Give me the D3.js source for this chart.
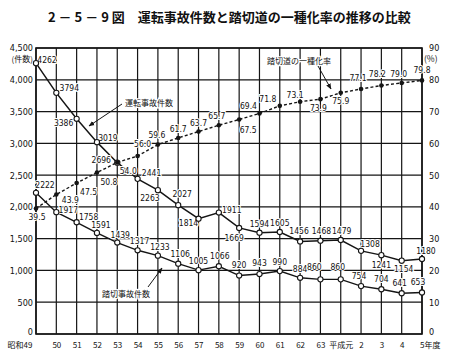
<!DOCTYPE html>
<html><head><meta charset="utf-8">
<script src="https://cdn.jsdelivr.net/npm/d3@7"></script>
<style>
body{margin:0;background:#fff;}
svg{display:block;background:#fff;}
.num{font-family:"Liberation Sans Narrow","DejaVu Sans Condensed","Arial Narrow",sans-serif;font-size:8.5px;fill:#111;}
.jp{font-family:"Noto Sans CJK JP","Noto Sans CJK SC",sans-serif;fill:#111;}
</style></head><body>
<svg id="c" width="458" height="360"></svg>
<script>
// ---- data ----
const years = ["昭和49","50","51","52","53","54","55","56","57","58","59","60","61","62","63","平成元","2","3","4","5年度"];
const untenJiko = [4262,3794,3386,3019,2696,2441,2263,2027,1814,1911,1669,1594,1605,1456,1468,1479,1308,1241,1154,1180];
const fumikiriJiko = [2222,1917,1758,1591,1439,1317,1233,1106,1005,1066,920,943,990,884,860,860,754,704,641,653];
const isshuRate = [39.5,43.9,47.5,50.8,54.0,56.0,59.6,61.7,63.7,65.7,67.5,69.4,71.8,73.1,73.9,75.9,77.1,78.2,79.0,79.8];
const leftTicks = [0,500,1000,1500,2000,2500,3000,3500,4000,4500];
const rightTicks = [0,10,20,30,40,50,60,70,80,90];
const rateLabels = ["39.5","43.9","47.5","50.8","54.0","56.0","59.6","61.7","63.7","65.7","67.5","69.4","71.8","73.1","73.9","75.9","77.1","78.2","79.0","79.8"];

// label nudges (relative to each point)
const untenOff = [[11,-3],[13,-5],[-13,4],[11,-4],[-16,-3],[14,-6],[-8,8],[4,-11],[-10,4],[13,-3],[-5,10],[0,-9],[0,-9],[-1,-10],[1,-10],[1,-9],[9,-7],[0,10],[2,8],[4,-8]];
const fumiOff = [[9,-8],[12,-2],[12,-5],[4,-8],[3,-8],[2,-9],[2,-9],[2,-10],[0,-9],[1,-10],[0,-11],[0,-11],[0,-9],[0,-9],[-6,-12],[-3,-12],[-2,-10],[0,-10],[-2,-10],[-4,-10]];
const rateOff = [[1,9],[14,6],[12,9],[12,9],[11,9],[5,-12],[-1,-10],[0,-9],[0,-9],[-2,-9],[9,10],[-11,-7],[-12,-7],[-5,-7],[-2,9],[0,8],[-3,-11],[-4,-11],[-3,-9],[0,-10]];

// ---- layout ----
const L = 36, R = 422, T = 48, B = 334;
const svg = d3.select("#c");
const x = d3.scalePoint().domain(years).range([L, R]);
const yL = d3.scaleLinear().domain([0, 4500]).range([B, T]);
const yR = d3.scaleLinear().domain([0, 90]).range([B, T]);
const ink = "#151515";

// title
svg.append("text").attr("class","jp").attr("x",48).attr("y",22)
  .attr("font-size",13).attr("font-weight","bold")
  .text("2 － 5 － 9 図　運転事故件数と踏切道の一種化率の推移の比較");

// grid
const grid = svg.append("g").attr("stroke", ink).attr("stroke-width", 1.2);
grid.selectAll("line.v").data(years).join("line").attr("class","v")
  .attr("x1", d => x(d)).attr("x2", d => x(d)).attr("y1", T).attr("y2", B);
grid.selectAll("line.h").data(leftTicks).join("line").attr("class","h")
  .attr("x1", L).attr("x2", R).attr("y1", d => yL(d)).attr("y2", d => yL(d));
svg.append("rect").attr("x", L).attr("y", T).attr("width", R - L).attr("height", B - T)
  .attr("fill","none").attr("stroke", ink).attr("stroke-width", 1.6);

// axes
const axL = svg.append("g").attr("transform", `translate(${L-2},0)`)
  .call(d3.axisLeft(yL).tickValues(leftTicks).tickFormat(d3.format(",")).tickSize(0).tickPadding(1));
axL.select(".domain").remove();
axL.selectAll("text").attr("class","num").attr("font-size",null).attr("font-family",null).style("font-size","9px");
axL.selectAll(".tick").filter(d => d === 0).select("text").attr("dy","0.1em");
const axR = svg.append("g").attr("transform", `translate(${R+6},0)`)
  .call(d3.axisRight(yR).tickValues(rightTicks).tickSize(0).tickPadding(1));
axR.select(".domain").remove();
axR.selectAll("text").attr("class","num").attr("font-size",null).attr("font-family",null).style("font-size","9px");
axR.selectAll(".tick").filter(d => d === 0).select("text").attr("dy","0.1em");
const axB = svg.append("g").attr("transform", `translate(0,${B+8})`)
  .call(d3.axisBottom(x).tickSize(0).tickPadding(0));
axB.select(".domain").remove();
axB.selectAll("text").attr("class","jp").attr("font-size",8).attr("font-family",null);
axB.selectAll(".tick").filter(d => d === years[0]).select("text").attr("text-anchor","end").attr("dx", -4);
axB.selectAll(".tick").filter(d => d === years[years.length-1]).select("text").attr("text-anchor","start").attr("dx", -2.5);

svg.append("text").attr("class","jp").attr("x",33).attr("y",62).attr("text-anchor","end").attr("font-size",8).text("(件数)");
svg.append("text").attr("class","jp").attr("x",424).attr("y",62).attr("font-size",8.5).text("(%)");

// lines
const lineL = d3.line().x((d,i) => x(years[i])).y(d => yL(d));
const lineR = d3.line().x((d,i) => x(years[i])).y(d => yR(d));
svg.append("path").datum(untenJiko).attr("d", lineL).attr("fill","none").attr("stroke",ink).attr("stroke-width",1.5);
svg.append("path").datum(fumikiriJiko).attr("d", lineL).attr("fill","none").attr("stroke",ink).attr("stroke-width",1.4);
svg.append("path").datum(isshuRate).attr("d", lineR).attr("fill","none").attr("stroke",ink).attr("stroke-width",1.4).attr("stroke-dasharray","3,2.2");

// labels (drawn with white halo so grid lines break behind them)
function labels(vals, texts, off, scale) {
  svg.append("g").selectAll("text").data(vals).join("text").attr("class","num")
    .attr("x", (d,i) => x(years[i]) + off[i][0])
    .attr("y", (d,i) => scale(d) + off[i][1])
    .attr("text-anchor","middle").attr("dominant-baseline","central")
    .attr("stroke","#fff").attr("stroke-width",2).attr("paint-order","stroke")
    .text((d,i) => texts[i]);
}
labels(untenJiko, untenJiko.map(String), untenOff, yL);
labels(fumikiriJiko, fumikiriJiko.map(String), fumiOff, yL);
labels(isshuRate, rateLabels, rateOff, yR);

// markers
function circles(vals, scale) {
  svg.append("g").selectAll("circle").data(vals).join("circle")
    .attr("cx", (d,i) => x(years[i])).attr("cy", d => scale(d)).attr("r", 2.6)
    .attr("fill","#fff").attr("stroke",ink).attr("stroke-width",1.1);
}
circles(untenJiko, yL);
circles(fumikiriJiko, yL);
svg.append("g").selectAll("circle").data(isshuRate).join("circle")
  .attr("cx", (d,i) => x(years[i])).attr("cy", d => yR(d)).attr("r", 2.3).attr("fill", ink);

// annotations
const defs = svg.append("defs");
defs.append("marker").attr("id","ah").attr("viewBox","0 0 10 10").attr("refX",9).attr("refY",5)
  .attr("markerWidth",6).attr("markerHeight",6).attr("orient","auto-start-reverse")
  .append("path").attr("d","M0,1 L10,5 L0,9 Z").attr("fill",ink);
function note(txt, tx, ty, x1, y1, x2, y2) {
  svg.append("text").attr("class","jp").attr("x",tx).attr("y",ty).attr("font-size",8)
    .attr("dominant-baseline","central").attr("stroke","#fff").attr("stroke-width",2.5)
    .attr("paint-order","stroke").text(txt);
  svg.append("line").attr("x1",x1).attr("y1",y1).attr("x2",x2).attr("y2",y2)
    .attr("stroke",ink).attr("stroke-width",1).attr("marker-end","url(#ah)");
}
note("運転事故件数", 125, 102, 122, 104, 89, 126);
note("踏切道の一種化率", 267, 60, 318, 66, 331, 89);
note("踏切事故件数", 102, 293, 148, 287, 162, 268);
</script>
</body></html>
